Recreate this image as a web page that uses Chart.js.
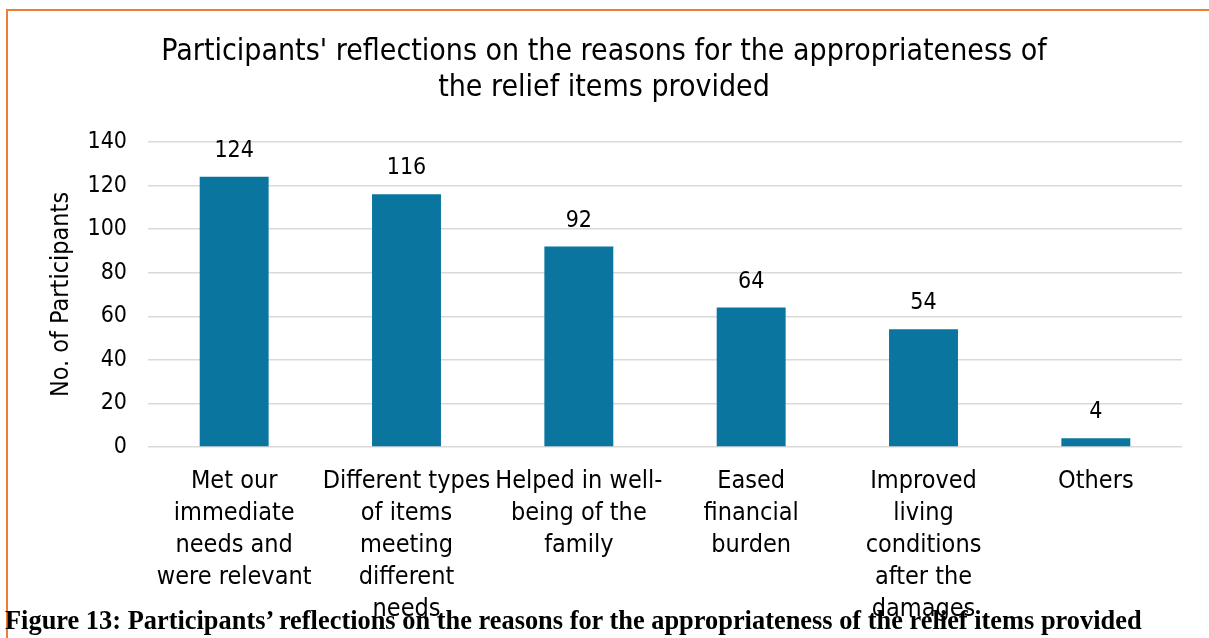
<!DOCTYPE html>
<html>
<head>
<meta charset="utf-8">
<script src="https://cdn.jsdelivr.net/npm/chart.js@4.4.1/dist/chart.umd.min.js"></script>
<style>
  html, body { margin: 0; padding: 0; background: #fff; overflow: hidden; }
  #wrap { position: relative; width: 1209px; height: 638px; }
  #frame { position: absolute; left: 6px; top: 9px; width: 1300px; height: 700px;
           border-left: 2px solid #ED7D31; border-top: 2px solid #ED7D31; }
  #chart { position: absolute; left: 0; top: 0; }
  #caption { position: absolute; left: 5px; top: 605px; font: bold 26.4px/30px "Liberation Serif", "Times New Roman", serif;
             color: #000; white-space: nowrap; }
</style>
</head>
<body>
<div id="wrap">
  <div id="frame"></div>
  <canvas id="chart" width="1209" height="638"></canvas>
  <div id="caption">Figure 13: Participants’ reflections on the reasons for the appropriateness of the relief items provided</div>
</div>
<script>
const categories = [
  ['Met our', 'immediate', 'needs and', 'were relevant'],
  ['Different types', 'of items', 'meeting', 'different', 'needs'],
  ['Helped in well-', 'being of the', 'family'],
  ['Eased', 'financial', 'burden'],
  ['Improved', 'living', 'conditions', 'after the', 'damages'],
  ['Others']
];
const participants = [124, 116, 92, 64, 54, 4];
const yTicks = [0, 20, 40, 60, 80, 100, 120, 140];

const font = '"DejaVu Sans Condensed", "DejaVu Sans", sans-serif';

// draws the value above each bar
const barValues = {
  id: 'barValues',
  afterDatasetsDraw(chart) {
    const ctx = chart.ctx;
    const meta = chart.getDatasetMeta(0);
    ctx.save();
    ctx.font = '23px ' + font;
    ctx.fillStyle = '#000';
    ctx.textAlign = 'center';
    ctx.textBaseline = 'middle';
    meta.data.forEach((bar, i) => {
      ctx.fillText(String(participants[i]), bar.x, bar.y - 26);
    });
    ctx.restore();
  }
};

new Chart(document.getElementById('chart'), {
  type: 'bar',
  data: {
    labels: categories,
    datasets: [{
      data: participants,
      backgroundColor: '#0A759F',
      categoryPercentage: 1,
      barPercentage: 0.4
    }]
  },
  options: {
    responsive: false,
    animation: false,
    layout: { padding: { left: 26, right: 27, top: 0, bottom: 0 } },
    plugins: {
      legend: { display: false },
      tooltip: { enabled: false },
      title: {
        display: true,
        text: ["Participants' reflections on the reasons for the appropriateness of", 'the relief items provided'],
        color: '#000',
        font: { family: font, size: 30, weight: 'normal', lineHeight: 1.2 },
        padding: { top: 34, bottom: 36 }
      }
    },
    scales: {
      x: {
        grid: { display: false, drawTicks: false },
        border: { display: false },
        ticks: {
          color: '#000',
          font: { family: font, size: 25, lineHeight: 1.28 },
          maxRotation: 0,
          autoSkip: false,
          padding: 18
        },
        afterFit(scale) { scale.height = 191; }
      },
      y: {
        min: 0,
        max: 140,
        afterBuildTicks(scale) { scale.ticks = yTicks.map(v => ({ value: v })); },
        grid: { color: '#D9D9D9', lineWidth: 1.5, drawTicks: false },
        border: { display: false },
        ticks: {
          color: '#000',
          font: { family: font, size: 23 },
          padding: 21
        },
        title: {
          display: true,
          text: 'No. of Participants',
          color: '#000',
          font: { family: font, size: 25 },
          padding: { top: 20, bottom: 0 }
        },
        afterFit(scale) { scale.width = 122; }
      }
    }
  },
  plugins: [barValues]
});
</script>
</body>
</html>
